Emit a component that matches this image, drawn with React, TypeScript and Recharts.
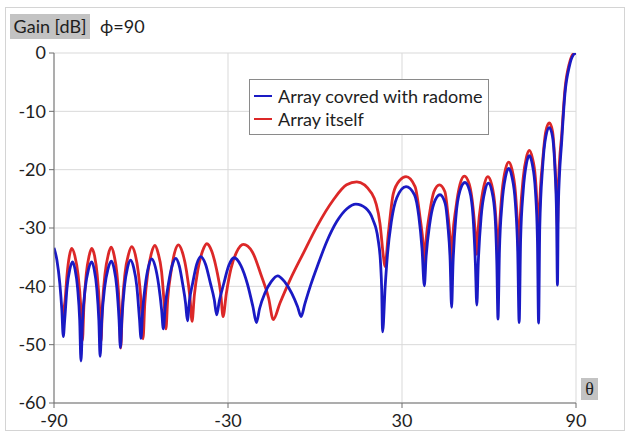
import React from 'react';
import { LineChart, Line, XAxis, YAxis, CartesianGrid } from 'recharts';

const xTicks = [-90, -30, 30, 90];
const yTicks = [-60, -50, -40, -30, -20, -10, 0];

const seriesNames = ['Array covred with radome', 'Array itself'];
const seriesColors = ['#1a1ac4', '#dc2828'];

const blueTheta = [
  -90, -89, -88, -87.3, -86.8, -86.32, -85.52, -84.56, -83.6, -82.73, -81.86, -81.14,
  -80.7, -80.15, -79.22, -78.11, -77.0, -76.13, -75.26, -74.54, -74.1, -73.52, -72.54, -71.37,
  -70.2, -69.27, -68.34, -67.57, -67.1, -66.58, -65.7, -64.65, -63.6, -62.52, -61.44, -60.54,
  -60.0, -59.45, -58.52, -57.41, -56.3, -55.1, -53.9, -52.9, -52.3, -51.66, -50.58, -49.29,
  -48.0, -46.8, -45.6, -44.6, -44.0, -43.31, -42.16, -40.78, -39.4, -37.75, -36.1, -34.73,
  -33.9, -33.0, -31.5, -29.7, -27.9, -25.6, -23.3, -21.4, -20.2, -19.1, -17.3, -15.1,
  -12.9, -10.5, -8.0, -6.0, -4.8, -3.5, -1.5, 1.0, 4.0, 7.5, 11.0, 14.1,
  17.5, 20.0, 21.7, 22.6, 23.0, 23.3, 24.2, 25.0, 26.3, 28.2, 31.4, 34.3,
  35.8, 36.9, 37.7, 38.3, 39.5, 41.0, 43.1, 44.9, 45.8, 46.6, 47.1, 47.6,
  48.6, 50.0, 51.7, 53.3, 54.5, 55.3, 55.8, 56.3, 57.3, 58.6, 59.8, 61.0,
  62.1, 62.7, 63.1, 63.6, 64.5, 65.7, 66.8, 67.9, 69.1, 69.9, 70.4, 70.9,
  71.8, 72.9, 73.9, 74.9, 76.0, 76.7, 77.1, 77.5, 78.5, 79.6, 80.8, 81.9,
  82.7, 83.3, 83.6, 83.9, 85.1, 86.2, 87.7, 89.1, 90,
];
const blueGain = [
  -33.4, -35.5, -39.5, -44, -48.6, -45.8, -40.3, -37.1, -35.8, -37.1, -40.3, -45.8,
  -52.8, -45.8, -40.3, -37.1, -35.8, -37.1, -40.3, -45.8, -52.0, -45.7, -40.2, -37.0,
  -35.7, -37.0, -40.2, -45.7, -50.5, -45.5, -40.0, -36.8, -35.5, -36.8, -40.0, -45.5,
  -48.9, -44.3, -39.8, -36.6, -35.3, -36.6, -39.8, -44.0, -47.3, -43.5, -39.7, -36.5,
  -35.2, -36.5, -39.7, -43.0, -45.9, -42.5, -39.4, -36.2, -34.9, -36.2, -39.4, -42.3,
  -44.9, -42.5, -39.6, -36.4, -35.1, -36.4, -39.6, -43.5, -46.2, -43.8, -41.2, -39.2,
  -38.2, -39.2, -41.2, -43.5, -45.2, -43.0, -39.8, -36.3, -32.4, -28.9, -26.7, -25.9,
  -26.6, -28.6, -31.8, -36.0, -40.5, -47.8, -40.0, -34.5, -29.0, -24.8, -22.9, -24.3,
  -28.0, -33.5, -39.9, -35.0, -29.5, -25.8, -24.3, -25.8, -29.5, -35.5, -43.6, -36.0,
  -28.0, -23.6, -22.2, -23.6, -28.0, -36.0, -43.2, -36.0, -28.0, -23.6, -22.3, -23.7,
  -28.0, -36.0, -45.6, -34.0, -25.8, -21.2, -19.8, -21.2, -25.8, -34.0, -46.2, -32.0,
  -23.6, -19.0, -17.6, -19.0, -23.6, -32.0, -46.3, -30.0, -19.5, -14.3, -12.8, -14.3,
  -19.5, -28.0, -39.8, -26.3, -14.9, -6.9, -2.3, -0.3, 0,
];

const redTheta = [
  -87.0, -86.6, -86.2, -85.5, -84.7, -83.9, -82.8, -81.7, -80.75, -80.2,
  -79.7, -78.9, -77.9, -77.0, -76.0, -75.1, -74.3, -73.8, -73.3, -72.4, -71.3, -70.3,
  -69.3, -68.3, -67.5, -67.0, -66.4, -65.5, -64.3, -63.2, -62.0, -60.9, -59.9, -59.3,
  -58.7, -57.6, -56.4, -55.2, -54.1, -52.9, -52.0, -51.4, -50.8, -49.6, -48.4, -47.1,
  -45.7, -44.3, -43.1, -42.4, -41.6, -40.4, -38.8, -37.3, -35.6, -33.9, -32.5, -31.7,
  -30.6, -29.0, -27.0, -24.7, -21.6, -18.5, -16.0, -14.4, -12.1, -8.6, -4.0, 0.6,
  6.3, 10.9, 14.4, 19.6, 22.4, 23.6, 24.1, 25.3, 27.0, 29.3, 31.4, 34.5,
  36.2, 37.4, 37.7, 38.3, 39.5, 41.0, 42.9, 44.8, 45.8, 46.6, 47.0, 47.5,
  48.6, 50.0, 51.5, 53.2, 54.5, 55.3, 55.8, 56.3, 57.3, 58.5, 59.6, 60.9,
  62.1, 62.7, 63.1, 63.6, 64.5, 65.7, 66.8, 67.9, 69.1, 69.9, 70.3, 70.8,
  71.8, 72.9, 73.9, 74.9, 76.0, 76.7, 77.1, 77.5, 78.5, 79.6, 80.8, 81.9,
  82.7, 83.3, 83.6, 84.0, 85.1, 86.2, 87.7, 89.0, 90,
];
const redGain = [
  -46.0, -44.0, -42.5, -38.0, -34.8, -33.5, -34.8, -38.0, -43.5, -49.3,
  -43.5, -38.0, -34.8, -33.5, -34.8, -38.0, -43.5, -49.5, -43.3, -37.8, -34.6, -33.3,
  -34.6, -37.8, -43.3, -50.6, -43.2, -37.7, -34.5, -33.2, -34.5, -37.7, -43.2, -49.0,
  -43.0, -37.5, -34.3, -33.0, -34.3, -37.5, -43.0, -47.3, -42.3, -37.4, -34.2, -32.9,
  -34.2, -37.4, -42.0, -46.0, -41.5, -37.2, -34.0, -32.7, -34.0, -37.2, -41.2, -45.2,
  -41.3, -37.0, -34.1, -32.8, -34.1, -38.2, -42.0, -45.7, -42.9, -38.9, -34.3, -29.8,
  -25.2, -22.6, -22.1, -24.1, -29.2, -34.9, -36.6, -30.9, -24.1, -21.8, -21.2, -22.9,
  -28.1, -33.5, -36.1, -32.0, -27.5, -23.8, -22.6, -23.8, -27.5, -32.0, -36.4, -31.5,
  -26.5, -22.5, -21.1, -22.5, -26.5, -31.0, -34.5, -30.0, -25.5, -22.3, -21.2, -22.5,
  -26.5, -31.0, -35.0, -30.0, -23.8, -19.9, -18.7, -19.9, -23.8, -30.0, -34.5, -28.0,
  -21.4, -17.9, -16.7, -17.9, -21.4, -27.5, -33.0, -26.0, -18.5, -13.4, -12.0, -13.4,
  -18.5, -25.0, -30.0, -22.0, -13.8, -6.2, -1.8, -0.2, 0,
];

const blueData = blueTheta.map((t, i) => ({ theta: t, gain: blueGain[i] }));
const redData = redTheta.map((t, i) => ({ theta: t, gain: redGain[i] }));

const FONT = 'Lato, "Noto Sans", sans-serif';

export default function App() {
  return (
    <div style={{ position: 'absolute', left: 0, top: 0, width: 632, height: 437, background: '#fff', fontFamily: FONT }}>
      <div style={{ position: 'absolute', left: 5, top: 7, width: 620, height: 424, border: '1px solid #d4d4d4', boxSizing: 'border-box' }} />
      <div style={{ position: 'absolute', left: 0, top: 0 }}>
        <LineChart width={632} height={437} margin={{ top: 53, right: 56, bottom: 4, left: 14 }}>
          <CartesianGrid stroke="#d9d9d9" strokeWidth={1} />
          <XAxis
            type="number"
            dataKey="theta"
            domain={[-90, 90]}
            ticks={xTicks}
            allowDataOverflow
            height={30}
            tickSize={5}
            tickMargin={6}
            stroke="#6e6e6e"
            tick={{ fill: '#1e1e1e', fontSize: 18, fontFamily: FONT }}
          />
          <YAxis
            type="number"
            dataKey="gain"
            domain={[-60, 0]}
            ticks={yTicks}
            allowDataOverflow
            width={40}
            tickSize={5}
            tickMargin={3}
            stroke="#6e6e6e"
            tick={{ fill: '#1e1e1e', fontSize: 18, fontFamily: FONT }}
          />
          <Line data={redData} dataKey="gain" type="monotone" stroke={seriesColors[1]} strokeWidth={2.8} dot={false} isAnimationActive={false} />
          <Line data={blueData} dataKey="gain" type="monotone" stroke={seriesColors[0]} strokeWidth={2.8} dot={false} isAnimationActive={false} />
        </LineChart>
      </div>
      <div style={{ position: 'absolute', left: 10, top: 14, width: 80, height: 25, background: '#c3c3c3', color: '#1e1e1e', fontSize: 18, lineHeight: '25px', textAlign: 'center' }}>
        Gain [dB]
      </div>
      <div style={{ position: 'absolute', left: 100, top: 14, height: 25, color: '#1e1e1e', fontSize: 18, lineHeight: '25px' }}>
        ϕ=90
      </div>
      <div style={{ position: 'absolute', left: 581, top: 378, width: 17, height: 22, background: '#c3c3c3', color: '#1e1e1e', fontSize: 18, lineHeight: '22px', textAlign: 'center', fontFamily: '"Liberation Serif", "DejaVu Serif", serif' }}>
        θ
      </div>
      <div style={{ position: 'absolute', left: 249, top: 79, width: 240, height: 56, border: '1px solid #8a8a8a', background: '#fff', boxSizing: 'border-box' }}>
        {seriesNames.map((name, i) => (
          <div key={name} style={{ position: 'absolute', left: 4, top: 5 + i * 23, height: 22, display: 'flex', alignItems: 'center', fontSize: 18, color: '#1e1e1e', whiteSpace: 'nowrap' }}>
            <span style={{ display: 'inline-block', width: 18, height: 2, background: seriesColors[i], marginRight: 6 }} />
            {name}
          </div>
        ))}
      </div>
    </div>
  );
}
